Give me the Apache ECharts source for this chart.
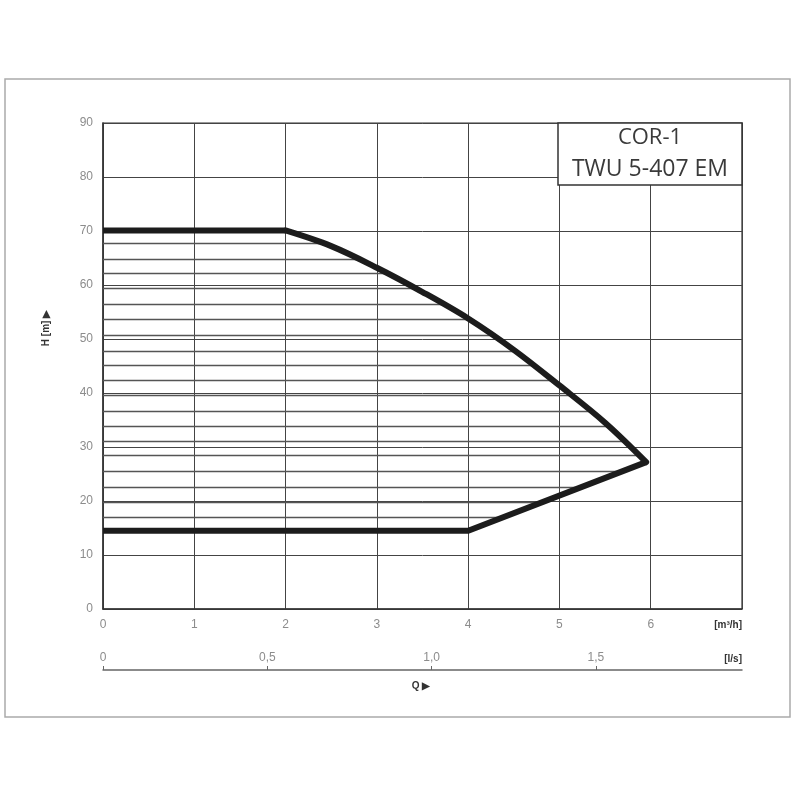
<!DOCTYPE html>
<html><head><meta charset="utf-8">
<script src="https://cdn.jsdelivr.net/npm/echarts@6/dist/echarts.min.js"></script>
<style>html,body{margin:0;background:#fff}#c{width:800px;height:800px}</style>
</head><body><div id="c"></div>
<script>
// ---- data ----
const flowTicks = [0, 1, 2, 3, 4, 5, 6];          // m3/h labels
const lsTicks = [0, 0.5, 1.0, 1.5];                // l/s labels
const upperQ = [0, 2, 2.5, 3, 3.5, 4, 4.5, 5, 5.5, 5.95];
const upperH = [70.1, 70.1, 67.2, 63.2, 58.7, 53.8, 48.0, 41.4, 34.5, 27.2];
const lowerQ = [5.95, 4, 0];
const lowerH = [27.2, 14.5, 14.5];
const hatchH = [67.7, 64.8, 62.2, 59.4, 56.4, 53.6, 50.7, 47.8, 45.1, 42.4, 39.5, 36.6, 33.9, 31.1, 28.5, 25.6, 22.5, 19.8, 16.9];
const titleLines = ['COR-1', 'TWU 5-407 EM'];

// ---- build ----
const upperPts = upperQ.map((q, i) => [q, upperH[i]]);
const lowerPts = lowerQ.map((q, i) => [q, lowerH[i]]);
const boundary = upperPts.concat(lowerPts.slice(1));
function rightEnd(h) {
  let best = 0;
  for (let i = 0; i < boundary.length - 1; i++) {
    const [q1, h1] = boundary[i], [q2, h2] = boundary[i + 1];
    if (h1 === h2) continue;
    if ((h - h1) * (h - h2) <= 0) {
      const q = q1 + (h - h1) / (h2 - h1) * (q2 - q1);
      if (q > best) best = q;
    }
  }
  return best;
}
const hatchData = hatchH.map(h => ({ coords: [[0, h], [rightEnd(h), h]] }));
const flatPart = upperPts.slice(0, 2);
const curvePart = upperPts.slice(1);

const labelFont = '"Liberation Sans Narrow","Liberation Sans",Arial,sans-serif';
const thickButt = { color: '#1c1c1c', width: 6, join: 'miter', cap: 'butt' };
const thickRound = { color: '#1c1c1c', width: 6, join: 'round', cap: 'round' };
const chart = echarts.init(document.getElementById('c'), null, { renderer: 'canvas' });
chart.setOption({
  animation: false,
  backgroundColor: '#fff',
  grid: [
    { left: 103, top: 123, width: 639, height: 486, show: true, borderColor: '#333', borderWidth: 1.2, backgroundColor: 'transparent' },
    { left: 103, top: 670, width: 639, height: 1, show: false }
  ],
  xAxis: [
    {
      type: 'value', gridIndex: 0, min: 0, max: 7, interval: 1,
      axisLine: { show: true, lineStyle: { color: '#333', width: 1.5 } },
      axisTick: { show: false },
      splitLine: { show: true, lineStyle: { color: '#444', width: 1 } },
      axisLabel: { customValues: flowTicks, color: '#8c8c8c', fontSize: 12, margin: 10, fontFamily: labelFont }
    },
    {
      type: 'value', gridIndex: 1, min: 0, max: 7 / 3.6, position: 'top', interval: 0.5,
      axisLine: { show: true, onZero: false, lineStyle: { color: '#666', width: 1.5 } },
      axisTick: { show: true, customValues: lsTicks, length: 4, lineStyle: { color: '#666' } },
      splitLine: { show: false },
      axisLabel: {
        customValues: lsTicks, color: '#8c8c8c', fontSize: 12, margin: 6, fontFamily: labelFont,
        formatter: v => v === 0 ? '0' : v.toFixed(1).replace('.', ',')
      }
    }
  ],
  yAxis: [
    {
      type: 'value', gridIndex: 0, min: 0, max: 90, interval: 10,
      axisLine: { show: true, lineStyle: { color: '#333', width: 1.5 } },
      axisTick: { show: false },
      splitLine: { show: true, lineStyle: { color: '#444', width: 1 } },
      axisLabel: { color: '#8c8c8c', fontSize: 12, margin: 10, fontFamily: labelFont }
    },
    { type: 'value', gridIndex: 1, min: 0, max: 1, show: false }
  ],
  series: [
    {
      type: 'lines', coordinateSystem: 'cartesian2d', xAxisIndex: 0, yAxisIndex: 0,
      data: hatchData, lineStyle: { color: '#555', width: 1.3, opacity: 1 }, z: 3
    },
    { type: 'line', data: flatPart, symbol: 'none', lineStyle: thickButt, z: 5, clip: false },
    { type: 'line', data: lowerPts, symbol: 'none', lineStyle: thickButt, z: 5, clip: false },
    { type: 'line', data: curvePart, symbol: 'none', smooth: 0.35, lineStyle: thickRound, z: 6, clip: false }
  ],
  graphic: [
    { type: 'rect', shape: { x: 5, y: 79, width: 785, height: 638 }, style: { fill: 'none', stroke: '#aaa', lineWidth: 1.5 }, z: 1 },
    { type: 'rect', shape: { x: 558, y: 123, width: 184, height: 62 }, style: { fill: '#fff', stroke: '#333', lineWidth: 1.5 }, z: 100 },
    { type: 'text', x: 650, y: 138, style: { text: titleLines[0], fill: '#3a3a3a', fontSize: 22, fontFamily: '"Open Sans",sans-serif', textAlign: 'center', textVerticalAlign: 'middle' }, z: 101 },
    { type: 'text', x: 650, y: 169, style: { text: titleLines[1], fill: '#3a3a3a', fontSize: 23, fontFamily: '"Open Sans",sans-serif', textAlign: 'center', textVerticalAlign: 'middle' }, z: 101 },
    { type: 'text', x: 742, y: 625, style: { text: '[m³/h]', fill: '#333', fontSize: 10, fontWeight: 'bold', fontFamily: labelFont, textAlign: 'right', textVerticalAlign: 'middle' }, z: 101 },
    { type: 'text', x: 742, y: 659, style: { text: '[l/s]', fill: '#333', fontSize: 10, fontWeight: 'bold', fontFamily: labelFont, textAlign: 'right', textVerticalAlign: 'middle' }, z: 101 },
    { type: 'text', x: 421, y: 686, style: { text: 'Q ▶', fill: '#333', fontSize: 10, fontWeight: 'bold', fontFamily: labelFont, textAlign: 'center', textVerticalAlign: 'middle' }, z: 101 },
    { type: 'text', x: 46, y: 328, rotation: Math.PI / 2, style: { text: 'H [m] ▶', fill: '#333', fontSize: 10, fontWeight: 'bold', fontFamily: labelFont, textAlign: 'center', textVerticalAlign: 'middle' }, z: 101 }
  ]
});
</script></body></html>
